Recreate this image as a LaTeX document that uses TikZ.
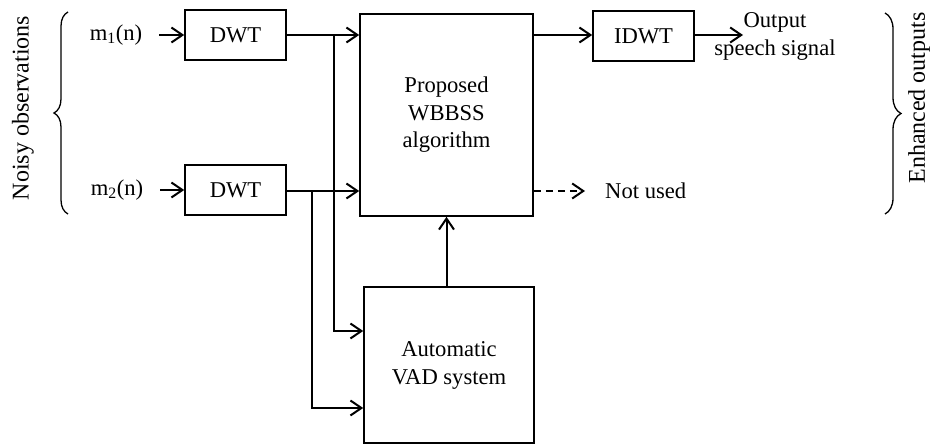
\documentclass[tikz,border=0pt]{standalone}
\usepackage{fontspec}
\setmainfont{Liberation Serif}
\usetikzlibrary{arrows.meta,decorations.pathreplacing}
\tikzset{
  txt/.style={font=\fontsize{22.6}{28}\selectfont, inner sep=0pt},
  vtxt/.style={font=\fontsize{24}{28}\selectfont, inner sep=0pt, rotate=90},
  block/.style={draw, line width=1.6pt, font=\fontsize{22.6}{27.5}\selectfont, align=center, inner sep=0pt},
  arr/.style={line width=2pt, -{Straight Barb[length=11pt,width=15pt]}},
  dasharr/.style={arr, dash pattern=on 7pt off 5pt},
  bracestyle/.style={line width=1.3pt, decorate},
}
\begin{document}
\begin{tikzpicture}[x=1pt,y=1pt]
\useasboundingbox (0,0) rectangle (942,-446);
% blocks
\node[block, minimum width=101, minimum height=50] (dwt1) at (235.5,-35) {DWT};
\node[block, minimum width=101, minimum height=50] (dwt2) at (235.5,-190) {DWT};
\node[block, minimum width=173, minimum height=202] (wbbss) at (446.5,-115) {\raisebox{2pt}{\begin{tabular}{@{}c@{}}Proposed\\WBBSS\\algorithm\end{tabular}}};
\node[block, minimum width=101, minimum height=50] (idwt) at (643.5,-36) {IDWT};
\node[block, minimum width=170, minimum height=156] (vad) at (449,-365) {\raisebox{8pt}{\begin{tabular}{@{}c@{}}Automatic\\VAD system\end{tabular}}};
% labels
\node[txt] (m1) at (116,-35) {m\textsubscript{1}(n)};
\node[txt] (m2) at (117,-190) {m\textsubscript{2}(n)};
\node[txt, align=center] (out) at (775,-36) {Output\\speech signal};
\node[txt, anchor=west] (nu) at (605,-191) {Not used};
\node[vtxt] (noisy) at (23,-108) {Noisy observations};
\node[vtxt] (enh) at (919,-98) {Enhanced outputs};
% junction coordinates
\coordinate (j1) at (334,-35);
\coordinate (j2) at (312,-191);
\coordinate (outend) at (743,-35);
% connectors
\draw[arr] ([xshift=17pt]m1.east) -- (dwt1.west);
\draw[arr] ([xshift=17pt]m2.east) -- (dwt2.west);
\draw[arr] (dwt1.east |- j1) -- (wbbss.west |- j1);
\draw[arr] (dwt2.east |- j2) -- (wbbss.west |- j2);
\draw[arr] (j1) -- (j1 |- 0,-331) -- (vad.west |- 0,-331);
\draw[arr] (j2) -- (j2 |- 0,-408) -- (vad.west |- 0,-408);
\draw[arr] (wbbss.south |- vad.north) -- (wbbss.south);
\draw[arr] (wbbss.east |- outend) -- (idwt.west |- outend);
\draw[arr] (idwt.east |- outend) -- (outend);
\draw[dasharr] (wbbss.east |- j2) -- ([xshift=-20pt]nu.west);
% braces
\draw[bracestyle, decoration={brace, amplitude=14pt}] (68,-214) -- (68,-12);
\draw[bracestyle, decoration={brace, amplitude=16pt}] (885,-13) -- (885,-214);
\end{tikzpicture}
\end{document}
